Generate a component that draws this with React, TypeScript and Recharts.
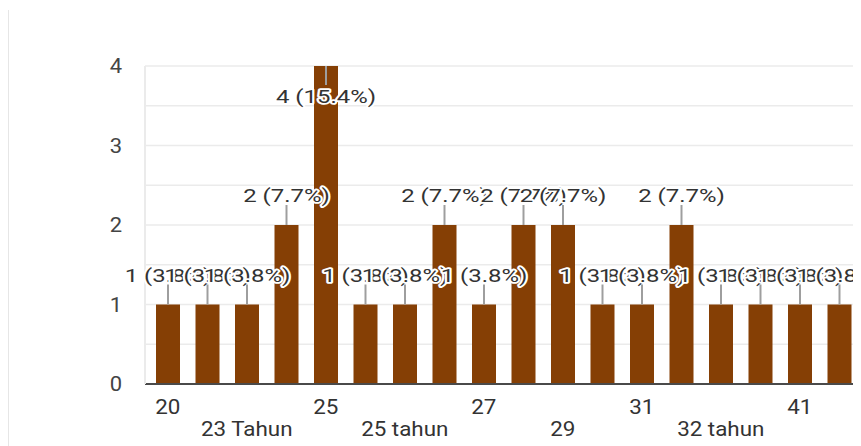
import { Bar, BarChart, CartesianGrid, LabelList, XAxis, YAxis } from 'recharts';

const ages = [
  '20', '21', '23 Tahun', '24', '25', '25 Tahun', '25 tahun', '26', '27',
  '28', '29', '30', '31', '32', '32 tahun', '35', '41', '45',
];
const counts = [1, 1, 1, 2, 4, 1, 1, 2, 1, 2, 2, 1, 1, 2, 1, 1, 1, 1];
const yTicks = [0, 0.5, 1, 1.5, 2, 2.5, 3, 3.5, 4];

const total = counts.reduce((s, v) => s + v, 0);
const data = ages.map((age, i) => ({ age, count: counts[i] }));

const barColor = '#853f05';
const PLOT_TOP = 58;

const AgeTick = ({ x, y, payload, index }: any) => {
  if (index % 2 === 1) return null;
  const row = (index / 2) % 2;
  return (
    <text
      transform={`translate(${x},${y + (row === 0 ? 23 : 45)}) scale(1.12,1)`}
      textAnchor="middle"
      dominantBaseline="central"
      fill="#333"
      fontSize={20}
      fontFamily="Roboto, sans-serif"
    >
      {payload.value}
    </text>
  );
};

const CountTick = ({ x, y, payload }: any) => {
  if (payload.value % 1 !== 0) return null;
  return (
    <text
      transform={`translate(${x - 29},${y}) scale(1.1,1)`}
      textAnchor="middle"
      dominantBaseline="central"
      fill="#444"
      fontSize={20}
      fontFamily="Roboto, sans-serif"
    >
      {payload.value}
    </text>
  );
};

const CountLabel = ({ x, y, width, value }: any) => {
  const cx = x + width / 2;
  const text = `${value} (${((value / total) * 100).toFixed(1)}%)`;
  const inside = y - 29 - 10 < PLOT_TOP;
  const stemEnd = inside ? y + 19 : y - 20;
  const textY = inside ? y + 31 : y - 29;
  return (
    <g>
      <line x1={cx} y1={y} x2={cx} y2={stemEnd} stroke="#9e9e9e" strokeWidth={2} />
      <text
        transform={`translate(${cx},${textY}) scale(1.33,1)`}
        textAnchor="middle"
        dominantBaseline="central"
        fill="#333"
        stroke="#fff"
        strokeWidth={3.5}
        strokeLinejoin="round"
        paintOrder="stroke"
        fontSize={18}
        fontFamily="Roboto, sans-serif"
      >
        {text}
      </text>
    </g>
  );
};

export default function App() {
  return (
    <div style={{ position: 'relative', width: 853, height: 438 }}>
      <div
        style={{
          position: 'absolute',
          left: -1,
          top: 2,
          width: 2,
          height: 436,
          background: '#e6e6e6',
        }}
      />
      <BarChart
        width={853}
        height={438}
        data={data}
        margin={{ top: PLOT_TOP, right: 2, bottom: 12, left: 0 }}
        barSize={24}
      >
        <CartesianGrid vertical={false} stroke="#ebebeb" strokeWidth={1.5} />
        <XAxis
          dataKey="age"
          interval={0}
          height={50}
          padding={{ left: 3, right: 0 }}
          tickLine={false}
          tickSize={0}
          tickMargin={0}
          axisLine={{ stroke: '#4a4a4a', strokeWidth: 2 }}
          tick={<AgeTick />}
        />
        <YAxis
          width={137}
          domain={[0, 4]}
          ticks={yTicks}
          interval={0}
          tickLine={false}
          tickSize={0}
          tickMargin={0}
          axisLine={{ stroke: '#ebebeb', strokeWidth: 2 }}
          tick={<CountTick />}
        />
        <Bar dataKey="count" fill={barColor} isAnimationActive={false}>
          <LabelList dataKey="count" content={<CountLabel />} />
        </Bar>
      </BarChart>
    </div>
  );
}
